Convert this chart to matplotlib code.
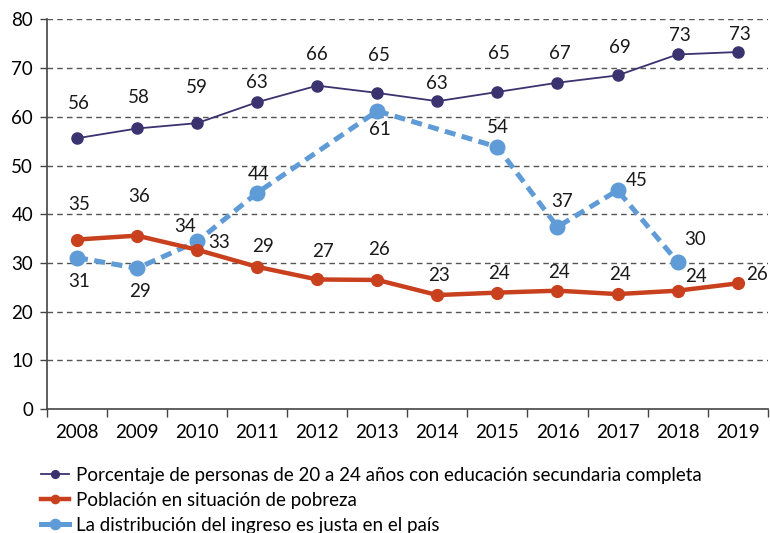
import matplotlib.pyplot as plt
import numpy as np

years = ["2008", "2009", "2010", "2011", "2012", "2013",
         "2014", "2015", "2016", "2017", "2018", "2019"]

educacion = [55.6, 57.6, 58.7, 63.0, 66.4, 64.9, 63.2, 65.1, 67.0, 68.5, 72.8, 73.3]
educacion_lbl = ["56", "58", "59", "63", "66", "65", "63", "65", "67", "69", "73", "73"]

pobreza = [34.8, 35.6, 32.7, 29.2, 26.6, 26.5, 23.4, 23.9, 24.3, 23.6, 24.3, 25.8]
pobreza_lbl = ["35", "36", "33", "29", "27", "26", "23", "24", "24", "24", "24", "26"]

# None = no survey that year
ingreso = [31.1, 28.9, 34.4, 44.4, None, 61.2, None, 53.8, 37.4, 44.9, 30.2, None]
ingreso_lbl = ["31", "29", "34", "44", "", "61", "", "54", "37", "45", "30", ""]

names = [
    "Porcentaje de personas de 20 a 24 años con educación secundaria completa",
    "Población en situación de pobreza",
    "La distribución del ingreso es justa en el país",
]

c_edu = "#3b3270"
c_pob = "#c8401d"
c_ing = "#5f9bd6"

# label offsets in pixels (dx, dy)
off_edu = [(2, 35), (2, 31), (0, 36), (0, 20), (0, 31), (2, 37),
           (0, 18), (2, 38), (2, 29), (2, 28), (2, 19), (2, 18)]
off_pob = [(2, 35), (2, 39), (22, 7), (6, 20), (6, 28), (2, 30),
           (2, 20), (2, 19), (2, 18), (2, 20), (18, 14), (19, 9)]
off_ing = [(2, -24), (3, -23), (-12, 15), (1, 18), (0, 0), (3, -19),
           (0, 0), (0, 20), (5, 25), (19, 10), (17, 22), (0, 0)]

plt.rcParams["font.family"] = ["Lato", "DejaVu Sans"]

fig = plt.figure(figsize=(7.7, 5.33), dpi=100)
ax = fig.add_axes([0.061, 0.2326, 0.936, 0.731])

x = np.arange(len(years))

ax.plot(x, educacion, color=c_edu, lw=1.3, marker="o", ms=8, zorder=4, label=names[0])
ax.plot(x, pobreza, color=c_pob, lw=3.2, marker="o", ms=8.5, zorder=3, label=names[1])

xi = [i for i, v in enumerate(ingreso) if v is not None]
yi = [v for v in ingreso if v is not None]
ax.plot(xi, yi, color=c_ing, lw=3.6, ls=(0, (2.2, 1.3)), marker="o", ms=10.5,
        zorder=2, label=names[2])

for i in x:
    ax.annotate(educacion_lbl[i], (i, educacion[i]), xytext=off_edu[i],
                textcoords="offset pixels", ha="center", va="center", fontsize=13.5,
                color="#1a1a1a")
    ax.annotate(pobreza_lbl[i], (i, pobreza[i]), xytext=off_pob[i],
                textcoords="offset pixels", ha="center", va="center", fontsize=13.5,
                color="#1a1a1a")
    if ingreso[i] is not None:
        ax.annotate(ingreso_lbl[i], (i, ingreso[i]), xytext=off_ing[i],
                    textcoords="offset pixels", ha="center", va="center", fontsize=13.5,
                    color="#1a1a1a")

ax.set_xlim(-0.5, len(years) - 0.5)
ax.set_ylim(0, 80)
ax.set_yticks(range(0, 81, 10))
ax.set_xticks(x)
ax.set_xticklabels(years)
ax.set_xticks(np.arange(-0.5, len(years), 1), minor=True)
ax.tick_params(axis="x", which="major", length=0, pad=11, labelsize=13.5)
ax.tick_params(axis="x", which="minor", length=6, width=1, color="#444444")
ax.tick_params(axis="y", length=5, width=1, color="#444444", labelsize=13.5, pad=5)

for s in ["top", "right"]:
    ax.spines[s].set_visible(False)
for s in ["left", "bottom"]:
    ax.spines[s].set_color("#444444")
    ax.spines[s].set_linewidth(1.2)

for v in range(10, 81, 10):
    ax.axhline(v, color="#555555", lw=1, ls=(0, (4, 3)), zorder=0)

handles, labels = ax.get_legend_handles_labels()
leg = fig.legend(handles, labels, loc="upper left", bbox_to_anchor=(0.043, 0.138),
                 frameon=False, fontsize=13.5, handlelength=1.5, handletextpad=0.4,
                 labelspacing=0.42, borderaxespad=0, markerscale=0.7)
for h in leg.legend_handles:
    h.set_linestyle("-")

fig.savefig("out.png", dpi=100)
